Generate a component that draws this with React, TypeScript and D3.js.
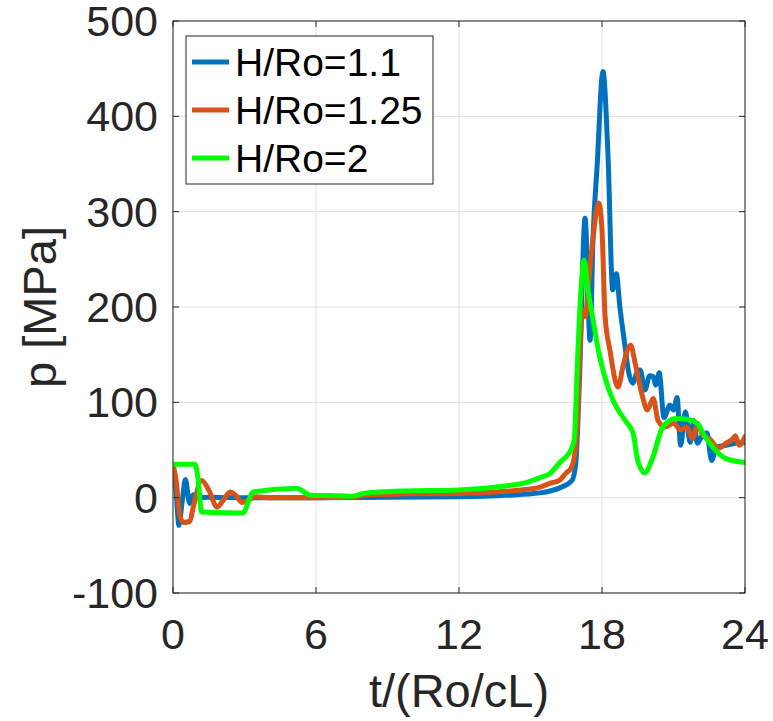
import React from "react";
import * as d3 from "d3";

const xTicks = [0, 6, 12, 18, 24];
const yTicks = [-100, 0, 100, 200, 300, 400, 500];
const seriesNames = ["H/Ro=1.1", "H/Ro=1.25", "H/Ro=2"];
const seriesColors = ["#0072BD", "#D95319", "#00FF00"];

const blue: [number, number][] = [
  [0, 35], [0.12, 10], [0.25, -29], [0.38, -5], [0.52, 19], [0.7, -6], [0.85, 3], [1.0, 0], [1.5, 0.5], [3, 0], [6, 0],
  [9, 0.5], [12, 1], [14, 2.5], [15.4, 5], [16.2, 10], [16.74, 18], [16.9, 36], [17.05, 120], [17.29, 293], [17.5, 165],
  [17.62, 270], [17.8, 350], [18.04, 447], [18.25, 360], [18.45, 218], [18.6, 235], [18.75, 200], [18.97, 158],
  [19.1, 134], [19.3, 120], [19.45, 130], [19.6, 134], [19.8, 113], [20.0, 128], [20.15, 127], [20.25, 118],
  [20.4, 131], [20.6, 84], [20.85, 97], [21.0, 92], [21.15, 105], [21.3, 55], [21.5, 90], [21.7, 58], [21.85, 81],
  [22.0, 57], [22.2, 65], [22.4, 68], [22.6, 39], [22.8, 53], [23.2, 55], [23.6, 57], [24, 58],
];

const orange: [number, number][] = [
  [0, 35], [0.12, 20], [0.3, -20], [0.45, -26], [0.7, -25], [0.85, -10], [1.2, 18], [1.5, 8], [1.85, -10], [2.1, -3],
  [2.4, 6], [2.65, 2], [2.9, -5], [3.2, -2], [3.5, 1], [4, 0], [6, 0], [7.5, 0.5], [8.2, 3], [10, 4], [12, 4.5],
  [13.5, 6], [14.6, 8], [15.4, 11], [15.8, 15], [16.2, 18], [16.5, 26], [16.7, 31], [16.85, 45], [16.95, 71],
  [17.1, 170], [17.18, 197], [17.3, 190], [17.45, 230], [17.6, 267], [17.87, 309], [18.0, 281], [18.13, 190],
  [18.33, 155], [18.67, 116], [18.9, 140], [19.2, 160], [19.4, 140], [19.7, 106], [19.9, 92], [20.15, 104],
  [20.35, 81], [20.64, 74], [21.0, 78], [21.3, 71], [21.56, 74], [21.8, 62], [22.0, 76], [22.25, 65], [22.5, 62],
  [22.9, 52], [23.2, 57], [23.5, 62], [23.6, 65], [23.75, 55], [24, 64],
];

const green: [number, number][] = [
  [0, 35], [0.92, 35], [1.05, 20], [1.2, -15], [2.95, -16], [3.15, -5], [3.35, 6], [5.2, 10], [5.5, 6], [5.75, 2.6],
  [7, 2], [7.5, 1.5], [8, 4.5], [9.65, 7], [12, 8], [13.85, 12], [14.85, 16], [15.4, 21], [15.8, 25], [16.2, 36],
  [16.75, 53], [16.85, 65], [16.95, 130], [17.1, 210], [17.25, 249], [17.4, 220], [17.6, 190], [17.9, 148],
  [18.25, 116], [18.5, 100], [19.0, 80], [19.3, 68], [19.5, 39], [19.8, 26], [20.1, 40], [20.55, 74], [21.1, 83],
  [21.6, 82], [22.0, 78], [22.3, 65], [22.65, 53], [23.2, 41], [24, 37],
];

const allSeries = [blue, orange, green];

const W = 773;
const H = 721;
const L = 173, R = 745, T = 21, B = 593;
const FONT = "'Liberation Sans', Arial, Helvetica, sans-serif";
const AX = "#262626";

export default function App() {
  const x = d3.scaleLinear().domain([0, 24]).range([L, R]);
  const y = d3.scaleLinear().domain([-100, 500]).range([B, T]);
  const line = d3
    .line<[number, number]>()
    .x((d) => x(d[0]))
    .y((d) => y(d[1]))
    .curve(d3.curveMonotoneX);
  const tl = 6;
  return (
    <svg width={W} height={H} style={{ position: "absolute", left: 0, top: 0, background: "#fff" }}>
      <rect x={0} y={0} width={W} height={H} fill="#fff" />
      <defs>
        <clipPath id="plotclip">
          <rect x={L} y={T} width={R - L} height={B - T} />
        </clipPath>
      </defs>
      {/* grid */}
      {xTicks.map((t) => (
        <line key={"gx" + t} x1={x(t)} x2={x(t)} y1={T} y2={B} stroke="#dfdfdf" strokeWidth={1} />
      ))}
      {yTicks.map((t) => (
        <line key={"gy" + t} x1={L} x2={R} y1={y(t)} y2={y(t)} stroke="#dfdfdf" strokeWidth={1} />
      ))}
      {/* data */}
      <g clipPath="url(#plotclip)">
        {allSeries.map((s, i) => (
          <path
            key={i}
            d={line(s) || ""}
            fill="none"
            stroke={seriesColors[i]}
            strokeWidth={5}
            strokeLinejoin="round"
            strokeLinecap="round"
          />
        ))}
      </g>
      {/* box */}
      <rect x={L} y={T} width={R - L} height={B - T} fill="none" stroke={AX} strokeWidth={1} />
      {/* ticks */}
      {xTicks.map((t) => (
        <g key={"tx" + t}>
          <line x1={x(t)} x2={x(t)} y1={B} y2={B - tl} stroke={AX} />
          <line x1={x(t)} x2={x(t)} y1={T} y2={T + tl} stroke={AX} />
          <text x={x(t)} y={649} textAnchor="middle" fontFamily={FONT} fontSize={43} fill={AX}>
            {t}
          </text>
        </g>
      ))}
      {yTicks.map((t) => (
        <g key={"ty" + t}>
          <line x1={L} x2={L + tl} y1={y(t)} y2={y(t)} stroke={AX} />
          <line x1={R} x2={R - tl} y1={y(t)} y2={y(t)} stroke={AX} />
          <text x={158} y={y(t) + 15} textAnchor="end" fontFamily={FONT} fontSize={43} fill={AX}>
            {t}
          </text>
        </g>
      ))}
      {/* axis labels */}
      <text x={(L + R) / 2} y={707} textAnchor="middle" fontFamily={FONT} fontSize={47} fill={AX}>
        t/(Ro/cL)
      </text>
      <text
        transform={`translate(56, ${(T + B) / 2}) rotate(-90)`}
        textAnchor="middle"
        fontFamily={FONT}
        fontSize={47}
        fill={AX}
      >
        p [MPa]
      </text>
      {/* legend */}
      <rect x={186} y={36} width={247} height={148} fill="#fff" stroke={AX} strokeWidth={1} />
      {seriesNames.map((n, i) => (
        <g key={n}>
          <line x1={192} x2={229} y1={62 + i * 48} y2={62 + i * 48} stroke={seriesColors[i]} strokeWidth={5} />
          <text x={235} y={76 + i * 48} fontFamily={FONT} fontSize={39} fill="#000">
            {n}
          </text>
        </g>
      ))}
    </svg>
  );
}
